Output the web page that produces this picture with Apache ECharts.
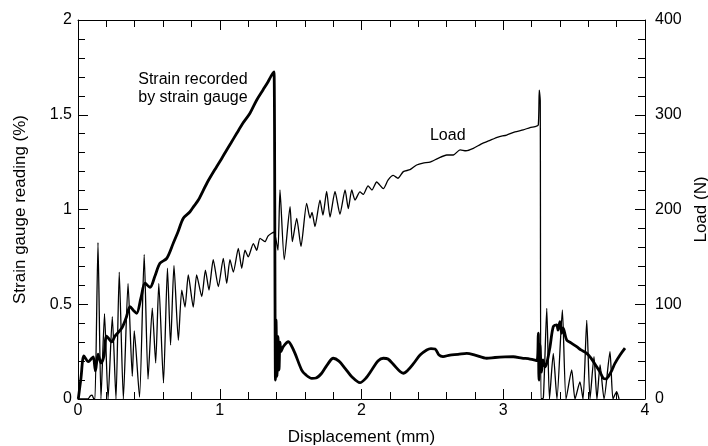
<!DOCTYPE html>
<html><head><meta charset="utf-8">
<script src="https://cdn.jsdelivr.net/npm/echarts@6/dist/echarts.min.js"></script>
<style>html,body{margin:0;padding:0;background:#fff}#c{width:708px;height:446px}</style>
</head><body><div id="c"></div>
<script>
// Strain gauge reading (%) vs displacement (mm)
const strainDisp = [0.002,0.021,0.042,0.073,0.097,0.108,0.123,0.141,0.162,0.183,0.202,0.238,0.261,0.308,0.339,0.367,0.395,0.414,0.444,0.473,0.508,0.543,0.578,0.626,0.672,0.705,0.743,0.79,0.818,0.849,0.91,0.978,1.016,1.049,1.079,1.12,1.164,1.213,1.261,1.305,1.34,1.362,1.376,1.383,1.393,1.397,1.404,1.411,1.418,1.425,1.432,1.448,1.484,1.503,1.531,1.578,1.608,1.649,1.679,1.719,1.757,1.801,1.841,1.884,1.933,1.989,2.032,2.072,2.116,2.154,2.187,2.229,2.272,2.295,2.328,2.365,2.413,2.46,2.49,2.519,2.547,2.575,2.624,2.681,2.742,2.801,2.883,2.942,3.012,3.071,3.132,3.189,3.238,3.247,3.252,3.259,3.27,3.28,3.294,3.309,3.33,3.353,3.377,3.386,3.4,3.412,3.422,3.448,3.478,3.518,3.548,3.589,3.619,3.659,3.683,3.706,3.725,3.741,3.767,3.788,3.824,3.859];
const strainPct = [0.0,0.111,0.227,0.197,0.215,0.222,0.148,0.237,0.19,0.227,0.332,0.302,0.332,0.373,0.427,0.487,0.464,0.452,0.533,0.611,0.589,0.649,0.716,0.742,0.822,0.881,0.954,0.988,1.018,1.05,1.14,1.226,1.272,1.314,1.351,1.402,1.456,1.508,1.578,1.631,1.673,1.704,1.72,1.726,0.1,0.417,0.12,0.33,0.153,0.30,0.25,0.276,0.302,0.285,0.241,0.153,0.127,0.109,0.111,0.136,0.179,0.215,0.2,0.162,0.116,0.086,0.111,0.153,0.2,0.215,0.211,0.179,0.145,0.136,0.153,0.185,0.232,0.259,0.266,0.264,0.232,0.224,0.232,0.235,0.241,0.232,0.215,0.219,0.222,0.223,0.216,0.211,0.203,0.348,0.1,0.285,0.142,0.206,0.17,0.195,0.276,0.382,0.391,0.364,0.408,0.347,0.375,0.311,0.296,0.276,0.259,0.241,0.216,0.17,0.142,0.109,0.106,0.118,0.153,0.188,0.232,0.268];
// Load (N) vs displacement (mm)
const loadDisp = [0,0.071,0.085,0.099,0.113,0.12,0.141,0.162,0.187,0.212,0.242,0.268,0.291,0.32,0.353,0.383,0.397,0.434,0.467,0.494,0.524,0.548,0.57,0.603,0.631,0.653,0.677,0.708,0.732,0.755,0.778,0.813,0.837,0.873,0.899,0.924,0.954,0.99,1.025,1.049,1.072,1.096,1.131,1.155,1.178,1.201,1.237,1.261,1.284,1.319,1.34,1.366,1.383,1.397,1.411,1.425,1.455,1.496,1.512,1.543,1.573,1.613,1.637,1.651,1.672,1.707,1.728,1.754,1.778,1.813,1.848,1.884,1.907,1.931,1.954,1.989,2.013,2.046,2.074,2.107,2.154,2.187,2.224,2.257,2.295,2.342,2.389,2.434,2.483,2.54,2.601,2.648,2.695,2.737,2.789,2.843,2.906,2.963,3.024,3.083,3.141,3.189,3.224,3.247,3.254,3.261,3.266,3.283,3.307,3.326,3.353,3.379,3.417,3.443,3.483,3.506,3.541,3.563,3.589,3.612,3.64,3.661,3.683,3.711,3.753,3.774,3.8,3.817];
const loadN = [0,0,3,4,0,0,165,0,90,0,87,0,134,0,122,24,72,2,152.5,21,96,38,122,17,138,57,141,62,115,97,131,97,131,108,136,115,147,118.5,148.5,122,147,134,159,138,157,150,164,157,169.6,166,172,175,176,168,157,220.6,147,203,166,190.7,161,206.5,191,197,182,210,194,219,192,219,195,220.6,201,220.6,210,218.5,216,225,220.6,229,222,231,236,233,240,242,247,249,250,254,257.5,257.5,263,262,264.6,269,273,276.5,278.6,282,284,286.5,287.4,289,326,315,0,1,95.7,0,48,0,94,0,30.6,0,18,0,83,0,44.6,0,36,0,50,0,7.7,0];
// Axis ticks
const xTicks = [0, 1, 2, 3, 4];
const strainTicks = [0, 0.5, 1, 1.5, 2];
const loadTicks = [0, 100, 200, 300, 400];
// Annotations: [text, x (mm), value, axis]
const notes = [
  ['Strain recorded', 0.425, 1.683, 0],
  ['by strain gauge', 0.425, 1.588, 0],
  ['Load', 2.483, 277.6, 1]
];

const FONT = '"Liberation Sans", Arial, sans-serif';
const strainData = strainDisp.map((x, i) => [x, strainPct[i]]);
const loadData = loadDisp.map((x, i) => [x, loadN[i]]);

const tickBase = {
  axisLine: {show: true, onZero: false, lineStyle: {color: '#000', width: 1}},
  axisTick: {show: true, inside: true, length: 10, lineStyle: {color: '#000', width: 1}},
  minorTick: {show: true, splitNumber: 5, length: 7, lineStyle: {color: '#000', width: 1}},
  splitLine: {show: false},
  minorSplitLine: {show: false}
};
const labelStyle = {color: '#000', fontSize: 16, fontFamily: FONT};
const nameStyle = {color: '#000', fontSize: 17, fontFamily: FONT};

const chart = echarts.init(document.getElementById('c'), null, {renderer: 'canvas'});
chart.setOption({
  animation: false,
  backgroundColor: '#fff',
  grid: {left: 78, right: 63, top: 20, bottom: 47, containLabel: false, outerBoundsMode: 'none'},
  xAxis: [
    Object.assign({type: 'value', position: 'bottom', min: xTicks[0], max: xTicks[xTicks.length - 1], interval: 1,
      axisLabel: Object.assign({margin: 4}, labelStyle),
      name: 'Displacement (mm)', nameLocation: 'middle', nameGap: 30, nameTextStyle: nameStyle}, tickBase),
    Object.assign({type: 'value', position: 'top', min: xTicks[0], max: xTicks[xTicks.length - 1], interval: 1,
      axisLabel: {show: false}}, tickBase)
  ],
  yAxis: [
    Object.assign({type: 'value', position: 'left', min: strainTicks[0], max: strainTicks[strainTicks.length - 1], interval: 0.5,
      axisLabel: Object.assign({margin: 6}, labelStyle),
      name: 'Strain gauge reading (%)', nameLocation: 'middle', nameGap: 49, nameRotate: 90, nameTextStyle: nameStyle}, tickBase),
    Object.assign({type: 'value', position: 'right', min: loadTicks[0], max: loadTicks[loadTicks.length - 1], interval: 100,
      axisLabel: Object.assign({margin: 10}, labelStyle),
      name: 'Load (N)', nameLocation: 'middle', nameGap: 47, nameRotate: 90, nameTextStyle: nameStyle}, tickBase)
  ],
  series: [
    {type: 'line', name: 'Load', xAxisIndex: 0, yAxisIndex: 1, data: loadData, showSymbol: false, symbol: 'none',
      smooth: 0.2, lineStyle: {color: '#000', width: 1.3}, z: 2},
    {type: 'line', name: 'Strain', xAxisIndex: 0, yAxisIndex: 0, data: strainData, showSymbol: false, symbol: 'none',
      smooth: 0.3, lineStyle: {color: '#000', width: 2.8}, z: 3}
  ]
});

const g = notes.map(n => {
  const p = chart.convertToPixel({xAxisIndex: 0, yAxisIndex: n[3]}, [n[1], n[2]]);
  return {type: 'text', x: p[0], y: p[1], style: {text: n[0], fill: '#000', font: '16px ' + FONT, verticalAlign: 'middle'}};
});
chart.setOption({graphic: g});
</script>
</body></html>
